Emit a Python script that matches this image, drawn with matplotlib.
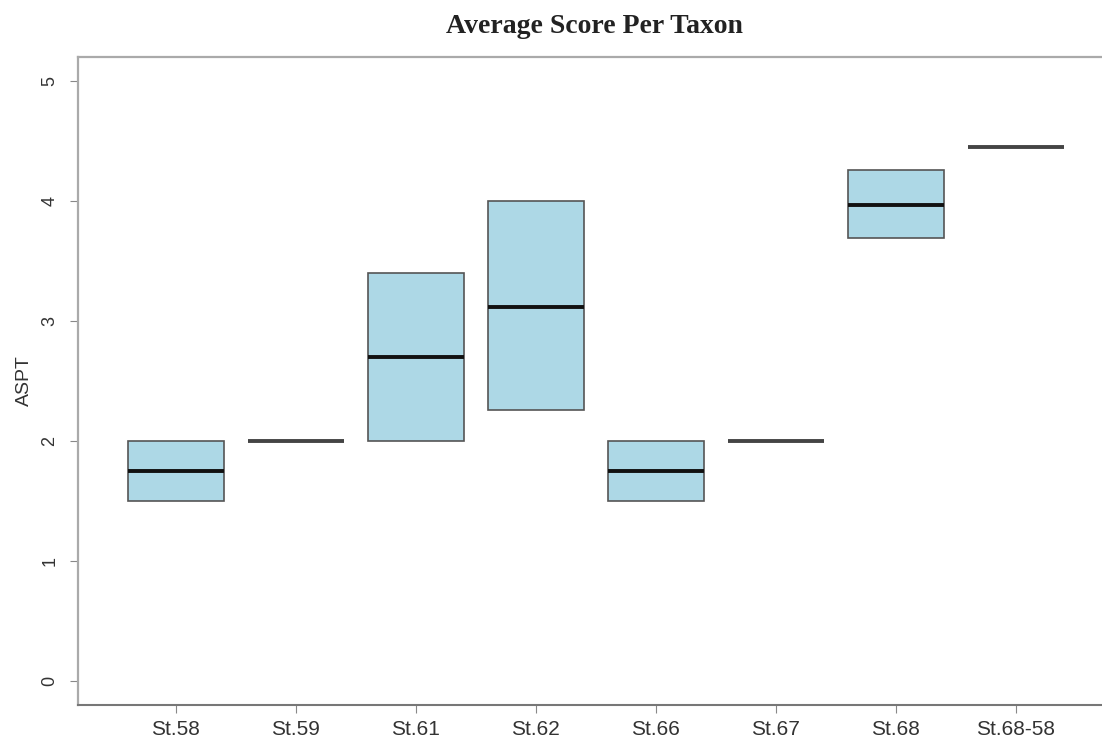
import matplotlib
matplotlib.use("Agg")
import matplotlib.pyplot as plt

# box statistics
stations = ["St.58", "St.59", "St.61", "St.62", "St.66", "St.67", "St.68", "St.68-58"]
q1 = [1.50, 2.00, 2.00, 2.26, 1.50, 2.00, 3.69, 4.45]
median = [1.75, 2.00, 2.70, 3.12, 1.75, 2.00, 3.97, 4.45]
q3 = [2.00, 2.00, 3.40, 4.00, 2.00, 2.00, 4.26, 4.45]
yticks = [0, 1, 2, 3, 4, 5]

stats = []
for name, a, m, b in zip(stations, q1, median, q3):
    stats.append({"label": name, "q1": a, "med": m, "q3": b,
                  "whislo": a, "whishi": b, "fliers": []})

fig = plt.figure(figsize=(11.02, 7.43), dpi=100)
ax = fig.add_axes([0.0704, 0.0511, 0.9405, 0.8722])

positions = list(range(1, len(stations) + 1))
bp = ax.bxp(stats, positions=positions, widths=0.8, patch_artist=True,
            showfliers=False, showcaps=False,
            boxprops=dict(facecolor="#ADD8E6", edgecolor="#555555", linewidth=1.2),
            whiskerprops=dict(color="#555555", linewidth=1.2),
            medianprops=dict(color="#111111", linewidth=2.8, solid_capstyle="butt"))

# zero-height boxes show as a single grey bar in the reference
for i, (a, b) in enumerate(zip(q1, q3)):
    if a == b:
        bp["medians"][i].set_color("#444444")

ax.set_xlim(0.18, 8.82)
ax.set_ylim(-0.2, 5.2)
ax.set_yticks(yticks)
ax.set_yticklabels([str(v) for v in yticks], rotation=90, va="center",
                   fontsize=13, color="#333333", family="Liberation Sans")
ax.set_xticks(positions)
ax.set_xticklabels(stations, fontsize=15, color="#333333", family="Liberation Sans")
ax.tick_params(axis="both", colors="#888888", length=6, width=0.8)
ax.tick_params(axis="both", labelcolor="#333333")
ax.tick_params(axis="y", pad=8)
ax.tick_params(axis="x", pad=5)

for side in ["left", "top", "right"]:
    ax.spines[side].set_color("#aaaaaa")
    ax.spines[side].set_linewidth(1.6)
ax.spines["bottom"].set_color("#777777")
ax.spines["bottom"].set_linewidth(1.5)

ax.set_ylabel("ASPT", fontsize=14, color="#333333", family="Liberation Sans", labelpad=6)
fig.text(0.539, 0.965, "Average Score Per Taxon", ha="center", va="center",
         fontsize=20, fontweight="bold", family="Liberation Serif", color="#222222")

fig.savefig("out.png", dpi=100)
